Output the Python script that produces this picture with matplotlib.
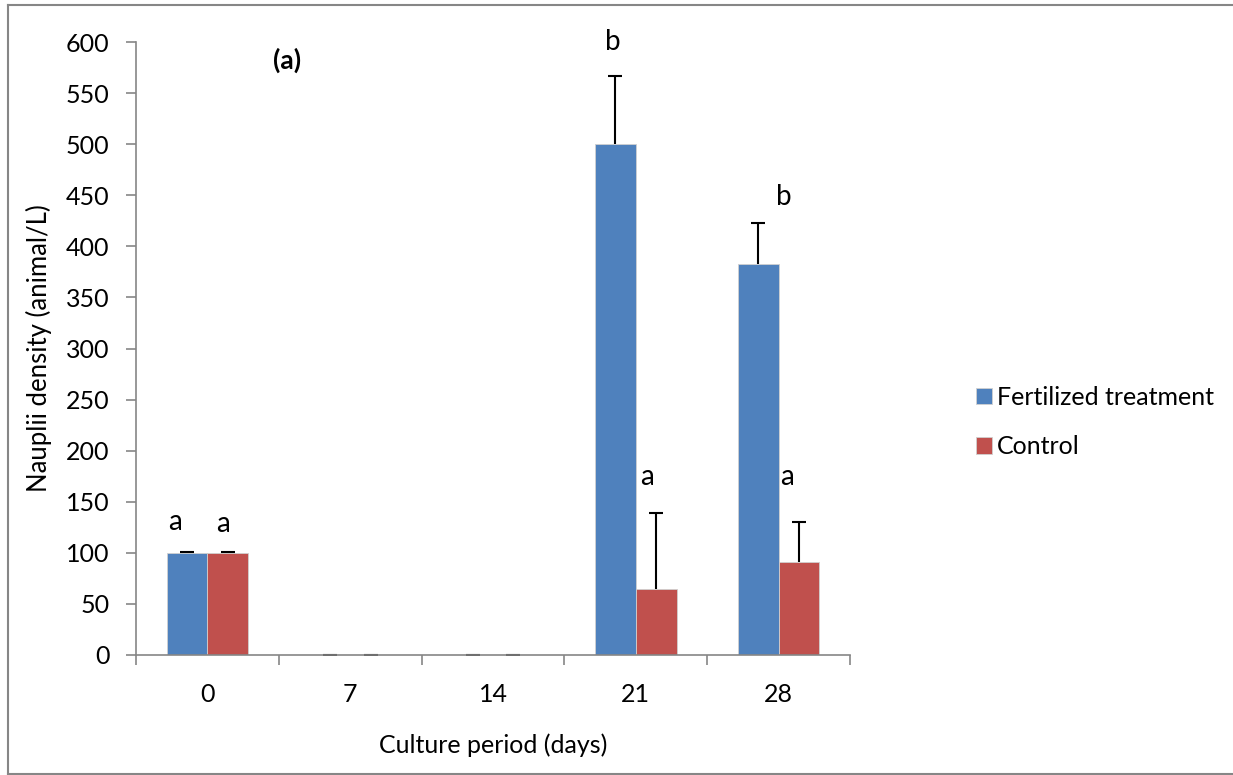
import numpy as np
import matplotlib.pyplot as plt
from matplotlib.lines import Line2D

plt.rcParams['font.family'] = ['Lato', 'DejaVu Sans']

days = ['0', '7', '14', '21', '28']
fertilized = [100, 0, 0, 500, 383]
fertilized_err = [1, 0, 0, 67, 40]
control = [100, 0, 0, 65, 91]
control_err = [1, 0, 0, 74, 39]

# significance letters: (category, offset, y, letter)
letters = [(0, -0.23, 130, 'a'), (0, 0.11, 128, 'a'),
           (3, -0.16, 600, 'b'), (3, 0.08, 174, 'a'),
           (4, 0.04, 448, 'b'), (4, 0.06, 174, 'a')]

blue = '#4f81bd'
red = '#c0504d'
axis_grey = '#868686'
fs = 18

fig = plt.figure(figsize=(12.33, 7.75), dpi=100)
ax = fig.add_axes([136 / 1233, 1 - 655 / 775, 714 / 1233, 613 / 775])

x = np.arange(len(days))
w = 1 / 3.5
ax.bar(x - w / 2, fertilized, w, color=blue, edgecolor='#d0d0d0', linewidth=0.6,
       label='Fertilized treatment')
ax.bar(x + w / 2, control, w, color=red, edgecolor='#d0d0d0', linewidth=0.6,
       label='Control')
for xs, vals, errs in [(x - w / 2, fertilized, fertilized_err),
                       (x + w / 2, control, control_err)]:
    eb = ax.errorbar(xs, vals, yerr=[np.zeros(len(vals)), errs], fmt='none',
                     ecolor='black', elinewidth=1.5, capsize=5, capthick=1.5)
    eb[1][0].set_visible(False)  # only the upper cap

for i, dx, y, s in letters:
    ax.text(i + dx, y, s, fontsize=20, ha='center', va='center')
ax.text(0.56, 582, '(a)', fontsize=19, fontweight='bold', ha='center', va='center')

ax.set_xlim(-0.5, 4.5)
ax.set_ylim(0, 600)
ax.set_yticks(np.arange(0, 601, 50))
ax.set_xticks(x)
ax.set_xticklabels(days)
ax.set_xticks(np.arange(-0.5, 4.6, 1), minor=True)
ax.tick_params(axis='x', which='major', length=0, pad=20, labelsize=fs)
ax.tick_params(axis='x', which='minor', length=7, color=axis_grey, width=1.2)
ax.tick_params(axis='y', length=7, color=axis_grey, width=1.2, pad=12, labelsize=fs)
for side in ['top', 'right']:
    ax.spines[side].set_visible(False)
for side in ['left', 'bottom']:
    ax.spines[side].set_color(axis_grey)
    ax.spines[side].set_linewidth(1.2)

ax.set_ylabel('Nauplii density (animal/L)', fontsize=fs + 0.5, labelpad=10)
ax.set_xlabel('Culture period (days)', fontsize=fs, labelpad=20)

ax.legend(loc='center left', bbox_to_anchor=(1.145, 0.38), frameon=False,
          fontsize=fs, handlelength=0.65, handleheight=0.65, handletextpad=0.2,
          labelspacing=1.05)

# chart area outline (left, top, bottom)
l, t, b = 8 / 1233, 1 - 5 / 775, 1.5 / 775
for xd, yd in [([l, l], [b, t]), ([l, 1], [t, t]), ([l, 1], [b, b])]:
    fig.add_artist(Line2D(xd, yd, transform=fig.transFigure, color=axis_grey, linewidth=1.5))

fig.savefig('out.png', dpi=100)
